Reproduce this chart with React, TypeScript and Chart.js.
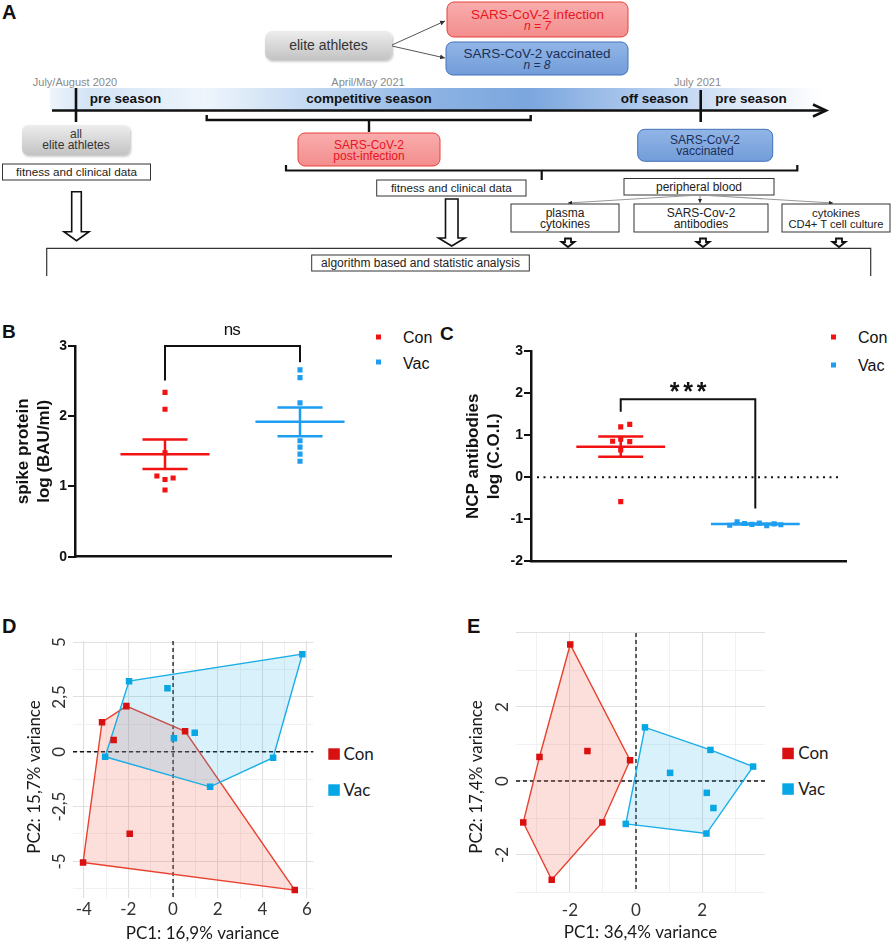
import React, { useEffect, useRef } from 'react';
import { Chart, registerables } from 'chart.js';

Chart.register(...registerables);

const SANS = "'Liberation Sans', Arial, sans-serif";
const NARROW = "'Liberation Sans Narrow', 'Liberation Sans', Arial, sans-serif";
const HUMAN = "Lato, 'Open Sans', sans-serif";

const RED = '#F21212';
const BLUE = '#1E9EF0';
const PC_RED = '#D8100F';
const PC_BLUE = '#07A6E4';

// ---------- Panel B : spike protein ----------
const groupNames = ['Con', 'Vac'];
const groupPositions = [1, 2];
const spikeCon = [2.34, 2.1, 1.48, 1.15, 1.12, 1.1, 0.95];
const spikeConJitter = [0, 0, 0, -0.06, 0.06, 0, 0];
const spikeVac = [2.66, 2.55, 2.19, 1.65, 1.56, 1.46, 1.36];
const spikeVacJitter = [0, 0, 0, 0, 0, 0, 0];
const spikeMean = [1.46, 1.92];
const spikeSem = [0.21, 0.205];
const spikeTicks = [0, 1, 2, 3];
const spikeBracket = [3.0, 2.51, 2.77]; // top, left end, right end
const spikeSigLabel = 'ns';
const spikeSigY = 3.23;

// ---------- Panel C : NCP antibodies ----------
const ncpCon = [1.26, 1.2, 0.91, 0.86, 0.85, 0.65, -0.58];
const ncpConJitter = [0.067, 0, 0, -0.06, 0.067, 0, 0];
const ncpVac = [-1.14, -1.06, -1.1, -1.12, -1.09, -1.15, -1.11, -1.13];
const ncpVacJitter = [-0.19, -0.135, -0.08, -0.025, 0.03, 0.085, 0.14, 0.19];
const ncpMean = [0.73, -1.11];
const ncpSem = [0.24, 0.012];
const ncpTicks = [-2, -1, 0, 1, 2, 3];
const ncpBracket = [1.86, 1.56, -0.74];
const ncpSigLabel = '***';
const ncpSigY = 2.0;

// ---------- Panel D : PCA ----------
const pcaDConX = [-2.09, -3.18, 0.54, -2.66, -1.94, -4.03, 5.45];
const pcaDConY = [2.08, 1.35, 0.93, 0.53, -3.74, -5.05, -6.31];
const pcaDVacX = [5.79, -1.97, -0.25, 0.97, 0.04, -3.04, 4.48, 1.66];
const pcaDVacY = [4.45, 3.22, 2.9, 0.87, 0.62, -0.23, -0.27, -1.6];
const pcaDXTicks = [-4, -2, 0, 2, 4, 6];
const pcaDYTicks = [-5, -2.5, 0, 2.5, 5];
const pcaDXTitle = 'PC1: 16,9% variance';
const pcaDYTitle = 'PC2: 15,7% variance';

// ---------- Panel E : PCA ----------
const pcaEConX = [-1.99, -2.92, -1.47, -0.18, -3.41, -1.02, -2.55];
const pcaEConY = [3.69, 0.65, 0.81, 0.56, -1.12, -1.12, -2.67];
const pcaEVacX = [0.27, 2.25, 3.54, 1.03, 2.14, 2.34, -0.31, 2.13];
const pcaEVacY = [1.45, 0.84, 0.39, 0.22, -0.32, -0.73, -1.16, -1.42];
const pcaEXTicks = [-2, 0, 2];
const pcaEYTicks = [-2, 0, 2];
const pcaEXTitle = 'PC1: 36,4% variance';
const pcaEYTitle = 'PC2: 17,4% variance';

type P = { x: number; y: number | null };

function jittered(values: number[], jitter: number[], g: number): P[] {
  return values.map((v, i) => ({ x: g + jitter[i], y: v }));
}

function errorBar(g: number, mean: number, sem: number): P[] {
  const w = 0.33;
  const c = 0.167;
  return [
    { x: g - w, y: mean }, { x: g + w, y: mean }, { x: g, y: null },
    { x: g - c, y: mean + sem }, { x: g + c, y: mean + sem }, { x: g, y: null },
    { x: g - c, y: mean - sem }, { x: g + c, y: mean - sem }, { x: g, y: null },
    { x: g, y: mean + sem }, { x: g, y: mean - sem },
  ];
}

function convexHull(pts: { x: number; y: number }[]) {
  const p = [...pts].sort((a, b) => a.x - b.x || a.y - b.y);
  const cross = (o: any, a: any, b: any) => (a.x - o.x) * (b.y - o.y) - (a.y - o.y) * (b.x - o.x);
  const lower: any[] = [];
  for (const q of p) {
    while (lower.length >= 2 && cross(lower[lower.length - 2], lower[lower.length - 1], q) <= 0) lower.pop();
    lower.push(q);
  }
  const upper: any[] = [];
  for (const q of [...p].reverse()) {
    while (upper.length >= 2 && cross(upper[upper.length - 2], upper[upper.length - 1], q) <= 0) upper.pop();
    upper.push(q);
  }
  lower.pop();
  upper.pop();
  const h = lower.concat(upper);
  return [...h, h[0]];
}

const near = (list: number[], v: number) => list.some((t) => Math.abs(t - v) < 1e-6);

const dotAnnot = {
  id: 'dotAnnot',
  beforeDatasetsDraw(chart: any, _a: any, o: any) {
    if (!o.zeroLine) return;
    const { ctx, chartArea: a, scales } = chart;
    const y0 = scales.y.getPixelForValue(0);
    ctx.save();
    ctx.strokeStyle = '#111';
    ctx.lineWidth = 2;
    ctx.setLineDash([2, 4.5]);
    ctx.beginPath();
    ctx.moveTo(a.left + 6, y0);
    ctx.lineTo(a.right - 6, y0);
    ctx.stroke();
    ctx.restore();
  },
  afterDatasetsDraw(chart: any, _a: any, o: any) {
    const { ctx, scales } = chart;
    const { x, y } = scales;
    const x1 = x.getPixelForValue(groupPositions[0]);
    const x2 = x.getPixelForValue(groupPositions[1]);
    const yt = y.getPixelForValue(o.bracket[0]);
    const yl = y.getPixelForValue(o.bracket[1]);
    const yr = y.getPixelForValue(o.bracket[2]);
    ctx.save();
    ctx.strokeStyle = '#111';
    ctx.lineWidth = 2;
    ctx.beginPath();
    ctx.moveTo(x1, yl);
    ctx.lineTo(x1, yt);
    ctx.lineTo(x2, yt);
    ctx.lineTo(x2, yr);
    ctx.stroke();
    ctx.fillStyle = '#111';
    ctx.textAlign = 'center';
    ctx.textBaseline = 'middle';
    ctx.font = o.labelFont;
    const chars = String(o.label).split('');
    const cx = (x1 + x2) / 2;
    const ly = y.getPixelForValue(o.labelY);
    chars.forEach((ch: string, i: number) => {
      ctx.fillText(ch, cx + (i - (chars.length - 1) / 2) * o.charStep, ly);
    });
    ctx.restore();
  },
};

function makeDotPlot(canvas: HTMLCanvasElement, s: any) {
  const datasets: any[] = [
    { label: groupNames[0], data: jittered(s.con, s.conJ, groupPositions[0]), backgroundColor: RED, borderWidth: 0, pointStyle: 'rect', pointRadius: 3.6 },
    { label: groupNames[1], data: jittered(s.vac, s.vacJ, groupPositions[1]), backgroundColor: BLUE, borderWidth: 0, pointStyle: 'rect', pointRadius: 3.6 },
    { label: 'Con mean', data: errorBar(groupPositions[0], s.mean[0], s.sem[0]), showLine: true, spanGaps: false, borderColor: RED, borderWidth: 2.5, pointRadius: 0, fill: false, borderCapStyle: 'butt' },
    { label: 'Vac mean', data: errorBar(groupPositions[1], s.mean[1], s.sem[1]), showLine: true, spanGaps: false, borderColor: BLUE, borderWidth: 2.5, pointRadius: 0, fill: false, borderCapStyle: 'butt' },
  ];
  return new Chart(canvas, {
    type: 'scatter',
    data: { datasets },
    plugins: [dotAnnot],
    options: {
      animation: false,
      responsive: false,
      events: [],
      layout: { padding: { top: s.padTop, right: s.padRight, left: 0, bottom: 0 } },
      plugins: {
        legend: { display: false },
        tooltip: { enabled: false },
        dotAnnot: { bracket: s.bracket, label: s.sig, labelY: s.sigY, labelFont: s.sigFont, charStep: s.charStep, zeroLine: s.zeroLine },
      } as any,
      scales: {
        x: {
          type: 'linear',
          min: 1 / 3,
          max: 2.674,
          grid: { display: false },
          border: { display: true, color: '#111', width: 2.5 },
          ticks: { display: false },
          afterFit: (sc: any) => { sc.height = s.xAxisH; },
        },
        y: {
          type: 'linear',
          min: s.ticks[0],
          max: s.ticks[s.ticks.length - 1],
          afterBuildTicks: (sc: any) => { sc.ticks = s.ticks.map((v: number) => ({ value: v })); },
          grid: { display: true, drawOnChartArea: false, drawTicks: true, tickLength: 7, color: '#111', lineWidth: 2 },
          border: { display: true, color: '#111', width: 2.5 },
          ticks: { font: { family: SANS, size: 14, weight: 'bold' }, color: '#111', padding: 1 },
          title: {
            display: true,
            text: s.title,
            color: '#111',
            font: { family: SANS, size: 17, weight: 'bold', lineHeight: 1.22 },
            padding: { top: s.titlePad, bottom: 0 },
          },
          afterFit: (sc: any) => { sc.width = s.yAxisW; },
        },
      } as any,
    },
  });
}

const pcaDecor = {
  id: 'pcaDecor',
  beforeDatasetsDraw(chart: any) {
    const { ctx, chartArea: a, scales } = chart;
    const x0 = scales.x.getPixelForValue(0);
    const y0 = scales.y.getPixelForValue(0);
    ctx.save();
    ctx.strokeStyle = '#151515';
    ctx.lineWidth = 1.3;
    ctx.setLineDash([4, 3]);
    ctx.beginPath();
    ctx.moveTo(x0, a.top);
    ctx.lineTo(x0, a.bottom);
    ctx.moveTo(a.left, y0);
    ctx.lineTo(a.right, y0);
    ctx.stroke();
    ctx.restore();
  },
  afterDraw(chart: any, _a: any, o: any) {
    const { ctx, chartArea: a, scales } = chart;
    ctx.save();
    ctx.textAlign = 'center';
    ctx.textBaseline = 'middle';
    ctx.font = `17px ${HUMAN}`;
    ctx.fillStyle = '#333';
    for (const v of o.yLabels) {
      const py = scales.y.getPixelForValue(v);
      ctx.save();
      ctx.translate(a.left - o.yLabelOffset, py);
      ctx.rotate(-Math.PI / 2);
      ctx.fillText(String(v).replace('.', ','), 0, 0);
      ctx.restore();
    }
    ctx.fillStyle = '#1a1a1a';
    ctx.font = `17px ${HUMAN}`;
    ctx.fillText(o.xTitle, o.xTitlePos[0], o.xTitlePos[1]);
    ctx.save();
    ctx.translate(o.yTitlePos[0], o.yTitlePos[1]);
    ctx.rotate(-Math.PI / 2);
    ctx.fillText(o.yTitle, 0, 0);
    ctx.restore();
    ctx.restore();
  },
};

function makePca(canvas: HTMLCanvasElement, s: any) {
  const con = s.conX.map((x: number, i: number) => ({ x, y: s.conY[i] }));
  const vac = s.vacX.map((x: number, i: number) => ({ x, y: s.vacY[i] }));
  const datasets: any[] = [
    { label: 'Con', data: con, backgroundColor: PC_RED, borderWidth: 0, pointStyle: 'rect', pointRadius: 4.6 },
    { label: 'Vac', data: vac, backgroundColor: PC_BLUE, borderWidth: 0, pointStyle: 'rect', pointRadius: 4.6 },
    { label: 'Vac hull', data: convexHull(vac), showLine: true, fill: 'shape', backgroundColor: 'rgba(30,170,230,0.17)', borderColor: '#19AEE6', borderWidth: 1.4, pointRadius: 0, tension: 0 },
    { label: 'Con hull', data: convexHull(con), showLine: true, fill: 'shape', backgroundColor: 'rgba(240,105,85,0.22)', borderColor: '#E8412F', borderWidth: 1.4, pointRadius: 0, tension: 0 },
  ];
  const gridCfg = (major: (v: number) => boolean) => ({
    drawTicks: false,
    color: (c: any) => (c.tick && major(c.tick.value) ? '#e0e0e0' : '#efefef'),
    lineWidth: (c: any) => (c.tick && major(c.tick.value) ? 1.1 : 0.9),
  });
  return new Chart(canvas, {
    type: 'scatter',
    data: { datasets },
    plugins: [pcaDecor],
    options: {
      animation: false,
      responsive: false,
      events: [],
      layout: { padding: { top: s.padTop, right: s.padRight, left: 0, bottom: 0 } },
      plugins: {
        legend: { display: false },
        tooltip: { enabled: false },
        pcaDecor: { yLabels: s.yTicks, yLabelOffset: 13, xTitle: s.xTitle, yTitle: s.yTitle, xTitlePos: s.xTitlePos, yTitlePos: s.yTitlePos },
      } as any,
      scales: {
        x: {
          type: 'linear',
          min: s.xRange[0],
          max: s.xRange[1],
          border: { display: false },
          grid: gridCfg((v) => Math.abs(v / s.xMajor - Math.round(v / s.xMajor)) < 1e-6),
          ticks: {
            stepSize: s.xStep,
            includeBounds: false,
            autoSkip: false,
            maxTicksLimit: 100,
            maxRotation: 0,
            padding: s.xTickPad,
            color: '#333',
            font: { family: HUMAN, size: 17 },
            callback: (v: any) => (near(s.xTicks, v) ? String(v) : ''),
          },
          afterFit: (sc: any) => { sc.height = s.xAxisH; },
        },
        y: {
          type: 'linear',
          min: s.yRange[0],
          max: s.yRange[1],
          border: { display: false },
          grid: gridCfg((v) => Math.abs(v / s.yMajor - Math.round(v / s.yMajor)) < 1e-6),
          ticks: { display: false, stepSize: s.yStep, includeBounds: false, autoSkip: false, maxTicksLimit: 100 },
          afterFit: (sc: any) => { sc.width = s.yAxisW; },
        },
      } as any,
    },
  });
}

function ChartBox({ left, top, width, height, make }: any) {
  const ref = useRef<HTMLCanvasElement>(null);
  useEffect(() => {
    const chart = make(ref.current);
    return () => chart.destroy();
  }, []);
  return <canvas ref={ref} width={width} height={height} style={{ position: 'absolute', left, top, width, height }} />;
}

const specB = {
  con: spikeCon, conJ: spikeConJitter, vac: spikeVac, vacJ: spikeVacJitter,
  mean: spikeMean, sem: spikeSem, ticks: spikeTicks, bracket: spikeBracket,
  sig: spikeSigLabel, sigY: spikeSigY, sigFont: `17px ${NARROW}`, charStep: 8, zeroLine: false,
  title: ['spike protein', 'log (BAU/ml)'], titlePad: 13,
  padTop: 36, padRight: 49, xAxisH: 43.3, yAxisW: 75,
};
const specC = {
  con: ncpCon, conJ: ncpConJitter, vac: ncpVac, vacJ: ncpVacJitter,
  mean: ncpMean, sem: ncpSem, ticks: ncpTicks, bracket: ncpBracket,
  sig: ncpSigLabel, sigY: ncpSigY, sigFont: `bold 25px ${SANS}`, charStep: 13.5, zeroLine: true,
  title: ['NCP antibodies', 'log (C.O.I.)'], titlePad: 23,
  padTop: 41.3, padRight: 46, xAxisH: 38.7, yAxisW: 91,
};
const specD = {
  conX: pcaDConX, conY: pcaDConY, vacX: pcaDVacX, vacY: pcaDVacY,
  xTicks: pcaDXTicks, yTicks: pcaDYTicks, xTitle: pcaDXTitle, yTitle: pcaDYTitle,
  xRange: [-4.48, 6.28], yRange: [-6.67, 5.05], xStep: 1, yStep: 1.25, xMajor: 2, yMajor: 2.5,
  padTop: 41, padRight: 126.7, xAxisH: 47, yAxisW: 73, xTickPad: 1,
  xTitlePos: [202.5, 334], yTitlePos: [35, 177],
};
const specE = {
  conX: pcaEConX, conY: pcaEConY, vacX: pcaEVacX, vacY: pcaEVacY,
  xTicks: pcaEXTicks, yTicks: pcaEYTicks, xTitle: pcaEXTitle, yTitle: pcaEYTitle,
  xRange: [-3.63, 3.9], yRange: [-3, 4], xStep: 1, yStep: 1, xMajor: 2, yMajor: 2,
  padTop: 33, padRight: 127, xAxisH: 53, yAxisW: 76, xTickPad: 8,
  xTitlePos: [200.5, 333], yTitlePos: [37, 177],
};

function Overlay() {
  const gray = '#333';
  return (
    <svg width={892} height={945} style={{ position: 'absolute', left: 0, top: 0 }} fontFamily={SANS}>
      <defs>
        <linearGradient id="grayG" x1="0" y1="0" x2="0" y2="1">
          <stop offset="0" stopColor="#ededed" />
          <stop offset="1" stopColor="#c3c3c3" />
        </linearGradient>
        <linearGradient id="pinkG" x1="0" y1="0" x2="0" y2="1">
          <stop offset="0" stopColor="#f9adad" />
          <stop offset="1" stopColor="#f38d8d" />
        </linearGradient>
        <linearGradient id="blueG" x1="0" y1="0" x2="0" y2="1">
          <stop offset="0" stopColor="#92b5e6" />
          <stop offset="1" stopColor="#729dd9" />
        </linearGradient>
        <linearGradient id="band" x1="50" y1="0" x2="822" y2="0" gradientUnits="userSpaceOnUse">
          <stop offset="0" stopColor="#eef4fb" />
          <stop offset="0.05" stopColor="#d3e4f5" />
          <stop offset="0.2" stopColor="#eef5fc" />
          <stop offset="0.36" stopColor="#bcd4f0" />
          <stop offset="0.5" stopColor="#8bb2e3" />
          <stop offset="0.62" stopColor="#7ba6de" />
          <stop offset="0.78" stopColor="#b3cdef" />
          <stop offset="0.9" stopColor="#e1ebf8" />
          <stop offset="1" stopColor="#ffffff" />
        </linearGradient>
        <filter id="sh" x="-10%" y="-20%" width="130%" height="160%">
          <feDropShadow dx="1" dy="1.5" stdDeviation="1.2" floodColor="#000" floodOpacity="0.25" />
        </filter>
        <marker id="ah" markerWidth="6" markerHeight="6" refX="5" refY="3" orient="auto" markerUnits="userSpaceOnUse">
          <path d="M0,0.5 L5,3 L0,5.5 Z" fill="#333" />
        </marker>
        <marker id="ah2" markerWidth="5" markerHeight="5" refX="4" refY="2.5" orient="auto" markerUnits="userSpaceOnUse">
          <path d="M0,0.5 L4,2.5 L0,4.5 Z" fill="#222" />
        </marker>
      </defs>

      {/* ---------- Panel A ---------- */}
      <text x={2} y={19} fontSize={20} fontWeight="bold" fill="#111">A</text>

      <rect x={265} y={31} width={127} height={29} rx={7} fill="url(#grayG)" filter="url(#sh)" />
      <text x={328.5} y={50} fontSize={14} textAnchor="middle" fill={gray}>elite athletes</text>
      <line x1={392} y1={45} x2={445} y2={21} stroke="#555" strokeWidth={1} markerEnd="url(#ah)" />
      <line x1={392} y1={46} x2={445} y2={58} stroke="#555" strokeWidth={1} markerEnd="url(#ah)" />

      <rect x={447} y={2} width={181} height={35} rx={7} fill="url(#pinkG)" stroke="#e8403a" strokeWidth={1} />
      <text x={537.5} y={18.8} fontSize={13.5} textAnchor="middle" fill="#e8141e">SARS-CoV-2 infection</text>
      <text x={537.5} y={29.8} fontSize={12} fontStyle="italic" textAnchor="middle" fill="#e8141e">n = 7</text>

      <rect x={446} y={42} width={182} height={33} rx={7} fill="url(#blueG)" stroke="#4172ba" strokeWidth={1} />
      <text x={537} y={58} fontSize={13.5} textAnchor="middle" fill="#1c2f57">SARS-CoV-2 vaccinated</text>
      <text x={537} y={69.4} fontSize={12} fontStyle="italic" textAnchor="middle" fill="#1c2f57">n = 8</text>

      <text x={75} y={86} fontSize={11} textAnchor="middle" fill="#8a8a8a">July/August 2020</text>
      <text x={368} y={86} fontSize={11} textAnchor="middle" fill="#8a8a8a">April/May 2021</text>
      <text x={697.5} y={86} fontSize={11} textAnchor="middle" fill="#8a8a8a">July 2021</text>

      <rect x={50} y={88} width={772} height={22} fill="url(#band)" />
      <line x1={52} y1={110.5} x2={825} y2={110.5} stroke="#111" strokeWidth={2.6} />
      <polyline points="813,104.5 826,110.5 813,116.5" fill="none" stroke="#111" strokeWidth={2.6} />
      <line x1={76} y1={88} x2={76} y2={122} stroke="#111" strokeWidth={2.6} />
      <line x1={700.7} y1={90} x2={700.7} y2={122} stroke="#111" strokeWidth={2.6} />

      <g fontSize={13.5} fontWeight="bold" fill="#111" textAnchor="middle">
        <text x={125.5} y={103}>pre season</text>
        <text x={369} y={103}>competitive season</text>
        <text x={654.5} y={103}>off season</text>
        <text x={751} y={103}>pre season</text>
      </g>

      <path d="M206.7,115 V120 H530.7 V115 M369,120 V132" fill="none" stroke="#111" strokeWidth={2.4} />

      <rect x={22} y={125} width={108} height={30} rx={6} fill="url(#grayG)" filter="url(#sh)" />
      <text x={76} y={138.3} fontSize={12} textAnchor="middle" fill={gray}>all</text>
      <text x={76} y={148.8} fontSize={12} textAnchor="middle" fill={gray}>elite athletes</text>

      <rect x={2.5} y={164} width={148} height={16} fill="#fff" stroke="#333" strokeWidth={1} />
      <text x={76.5} y={176.3} fontSize={11.7} textAnchor="middle" fill="#222">fitness and clinical data</text>

      <rect x={298} y={133} width={142} height={33} rx={7} fill="url(#pinkG)" stroke="#e8403a" strokeWidth={1} />
      <text x={369} y={149.3} fontSize={12} textAnchor="middle" fill="#e8141e">SARS-CoV-2</text>
      <text x={369} y={159.8} fontSize={12} textAnchor="middle" fill="#e8141e">post-infection</text>

      <rect x={637.7} y={129.3} width={135} height={32} rx={7} fill="url(#blueG)" stroke="#4172ba" strokeWidth={1} />
      <text x={705} y={143.6} fontSize={12} textAnchor="middle" fill="#1c2f57">SARS-CoV-2</text>
      <text x={705} y={155} fontSize={12} textAnchor="middle" fill="#1c2f57">vaccinated</text>

      <path d="M286,165 V170.5 H797.3 V165 M541.7,170.5 V180" fill="none" stroke="#111" strokeWidth={2.2} />

      <rect x={376.7} y={180} width={149.3} height={16} fill="#fff" stroke="#333" strokeWidth={1} />
      <text x={451.3} y={192.3} fontSize={11.7} textAnchor="middle" fill="#222">fitness and clinical data</text>

      <rect x={624} y={178.5} width={150} height={16.5} fill="#fff" stroke="#333" strokeWidth={1} />
      <text x={699} y={191} fontSize={12} textAnchor="middle" fill="#222">peripheral blood</text>

      <line x1={700} y1={195} x2={568} y2={203} stroke="#999" strokeWidth={1.1} markerEnd="url(#ah2)" />
      <line x1={700} y1={195} x2={700} y2={203} stroke="#999" strokeWidth={1.1} markerEnd="url(#ah2)" />
      <line x1={700} y1={195} x2={833} y2={203} stroke="#999" strokeWidth={1.1} markerEnd="url(#ah2)" />

      <rect x={511} y={204} width={108} height={28} fill="#fff" stroke="#333" strokeWidth={1} />
      <text x={565} y={216.8} fontSize={12} textAnchor="middle" fill="#222">plasma</text>
      <text x={565} y={227.5} fontSize={12} textAnchor="middle" fill="#222">cytokines</text>
      <rect x={634} y={204} width={134} height={28} fill="#fff" stroke="#333" strokeWidth={1} />
      <text x={701} y={216.8} fontSize={12} textAnchor="middle" fill="#222">SARS-Cov-2</text>
      <text x={701} y={227.5} fontSize={12} textAnchor="middle" fill="#222">antibodies</text>
      <rect x={782} y={204} width={108} height={28} fill="#fff" stroke="#333" strokeWidth={1} />
      <text x={836} y={216.8} fontSize={11.5} textAnchor="middle" fill="#222">cytokines</text>
      <text x={836} y={227.5} fontSize={11.2} textAnchor="middle" fill="#222">CD4+ T cell culture</text>

      <path d="M71.7,191.7 H81.3 V231.7 H89 L76.5,240.7 L64,231.7 H71.7 Z" fill="#fff" stroke="#111" strokeWidth={1.6} />
      <path d="M445.5,199 H458 V238 H465 L451.7,246 L438.5,238 H445.5 Z" fill="#fff" stroke="#111" strokeWidth={1.6} />
      {[568, 703, 839].map((cx) => (
        <path key={cx} d={`M${cx - 3},238.5 H${cx + 3} V242 H${cx + 6.5} L${cx},247 L${cx - 6.5},242 H${cx - 3} Z`} fill="#fff" stroke="#111" strokeWidth={1.8} />
      ))}

      <path d="M46.7,276 V248.3 H870.7 V276" fill="none" stroke="#333" strokeWidth={1.2} />
      <rect x={311.7} y={255} width={217.6} height={16} fill="#fff" stroke="#333" strokeWidth={1} />
      <text x={420.5} y={267.3} fontSize={12} textAnchor="middle" fill="#222">algorithm based and statistic analysis</text>

      {/* ---------- Panel letters ---------- */}
      <text x={2} y={338} fontSize={19} fontWeight="bold" fill="#111">B</text>
      <text x={440} y={340} fontSize={19} fontWeight="bold" fill="#111">C</text>
      <text x={2} y={633} fontSize={20} fontWeight="bold" fill="#111">D</text>
      <text x={467} y={633} fontSize={20} fontWeight="bold" fill="#111">E</text>

      {/* ---------- Legends B / C ---------- */}
      <g fontFamily={NARROW} fontSize={16} fill="#111">
        <rect x={376} y={334.5} width={5} height={5} fill={RED} />
        <text x={403} y={342.6}>{groupNames[0]}</text>
        <rect x={376} y={359.5} width={5} height={5} fill={BLUE} />
        <text x={403} y={368.6}>{groupNames[1]}</text>
        <rect x={831} y={334.5} width={5} height={5} fill={RED} />
        <text x={858} y={342.6}>{groupNames[0]}</text>
        <rect x={831} y={362.5} width={5} height={5} fill={BLUE} />
        <text x={858} y={370.6}>{groupNames[1]}</text>
      </g>

      {/* ---------- Legends D / E ---------- */}
      <g fontFamily={HUMAN} fontSize={17} fill="#1a1a1a">
        <rect x={328.3} y={748.3} width={11.5} height={11.5} fill={PC_RED} />
        <text x={343.5} y={760}>{groupNames[0]}</text>
        <rect x={328.3} y={784.3} width={11.5} height={11.5} fill={PC_BLUE} />
        <text x={343.5} y={796}>{groupNames[1]}</text>
        <rect x={782.3} y={747.7} width={11.5} height={11.5} fill={PC_RED} />
        <text x={798.3} y={759.4}>{groupNames[0]}</text>
        <rect x={782.3} y={783.3} width={11.5} height={11.5} fill={PC_BLUE} />
        <text x={798.3} y={795}>{groupNames[1]}</text>
      </g>
    </svg>
  );
}

export default function App() {
  return (
    <div style={{ position: 'absolute', left: 0, top: 0, width: 892, height: 945, background: '#fff', overflow: 'hidden' }}>
      <Overlay />
      <ChartBox left={0} top={310} width={440} height={290} make={(c: HTMLCanvasElement) => makeDotPlot(c, specB)} />
      <ChartBox left={440} top={310} width={452} height={290} make={(c: HTMLCanvasElement) => makeDotPlot(c, specC)} />
      <ChartBox left={0} top={600} width={440} height={345} make={(c: HTMLCanvasElement) => makePca(c, specD)} />
      <ChartBox left={440} top={600} width={452} height={345} make={(c: HTMLCanvasElement) => makePca(c, specE)} />
    </div>
  );
}
